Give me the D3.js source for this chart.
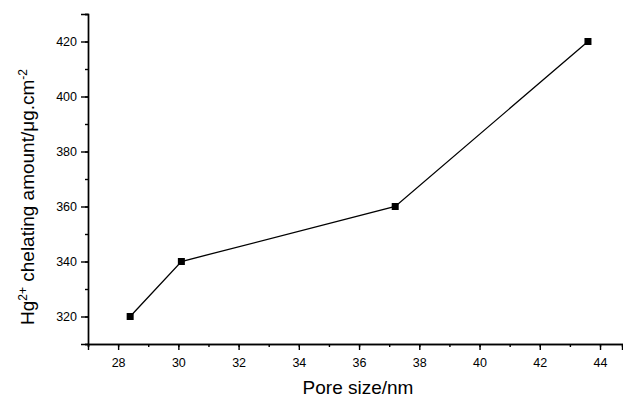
<!DOCTYPE html>
<html>
<head>
<meta charset="utf-8">
<script src="https://cdn.jsdelivr.net/npm/d3@7"></script>
<style>
  body { margin: 0; background: #fff; }
  svg { display: block; }
  text { font-family: "Liberation Sans", Arial, sans-serif; fill: #000; }
</style>
</head>
<body>
<svg width="623" height="398"></svg>
<script>
// dados
const poreSize = [28.4, 30.1, 37.2, 43.6];
const chelating = [320, 340, 360, 420];
const xTicks = [28, 30, 32, 34, 36, 38, 40, 42, 44];
const yTicks = [320, 340, 360, 380, 400, 420];

const svg = d3.select("svg");

// escalas
const x = d3.scaleLinear().domain([27, 44.73]).range([88, 622]);
const y = d3.scaleLinear().domain([310, 430]).range([344, 14]);

// eixo x (ticks menores + maiores)
const gx = svg.append("g").attr("transform", "translate(0,344)");
gx.call(d3.axisBottom(x).tickValues(d3.range(27, 45, 1)).tickSize(3).tickFormat(""));
gx.append("g").call(d3.axisBottom(x).tickValues(xTicks).tickSize(6).tickPadding(8));
gx.selectAll(".domain").attr("stroke-width", 1.4);
gx.selectAll("line").attr("stroke-width", 1.4);
gx.selectAll("text").style("font-size", "12.5px").attr("fill", "#000");

// eixo y
const gy = svg.append("g").attr("transform", "translate(88,0)");
gy.call(d3.axisLeft(y).tickValues(d3.range(310, 431, 10)).tickSize(3).tickFormat(""));
gy.append("g").call(d3.axisLeft(y).tickValues(yTicks).tickSize(7).tickPadding(4));
gy.selectAll(".domain").attr("stroke-width", 1.4);
gy.selectAll("line").attr("stroke-width", 1.4);
gy.selectAll("text").style("font-size", "12.5px").attr("fill", "#000");

// linha
const data = poreSize.map((d, i) => ({ x: d, y: chelating[i] }));
svg.append("path")
    .datum(data)
    .attr("fill", "none")
    .attr("stroke", "#000")
    .attr("stroke-width", 1.3)
    .attr("d", d3.line().x(d => x(d.x)).y(d => y(d.y)));

// marcadores quadrados
svg.selectAll(".pt")
    .data(data)
    .enter().append("rect")
    .attr("class", "pt")
    .attr("x", d => x(d.x) - 3.5)
    .attr("y", d => y(d.y) - 3.5)
    .attr("width", 7)
    .attr("height", 7)
    .attr("fill", "#000");

// títulos
svg.append("text")
    .attr("x", 358)
    .attr("y", 394)
    .attr("text-anchor", "middle")
    .style("font-size", "19px")
    .text("Pore size/nm");

const yt = svg.append("text")
    .attr("transform", "translate(34,197) rotate(-90)")
    .attr("text-anchor", "middle")
    .style("font-size", "19px");
yt.append("tspan").text("Hg");
yt.append("tspan").attr("dy", -7).style("font-size", "12px").text("2+");
yt.append("tspan").attr("dy", 7).text(" chelating amount/\u03bcg.cm");
yt.append("tspan").attr("dy", -7).style("font-size", "12px").text("-2");
</script>
</body>
</html>
